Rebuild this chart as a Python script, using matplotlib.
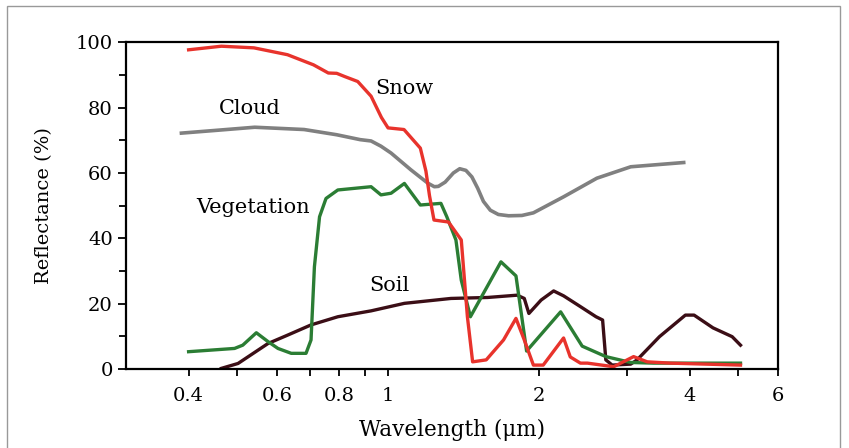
import matplotlib
matplotlib.use('Agg')
import matplotlib.pyplot as plt
from matplotlib.patches import Rectangle
from matplotlib.ticker import FixedLocator, NullFormatter

plt.rcParams['font.family'] = 'DejaVu Serif'

# wavelength (um) / reflectance (%)
snow_wl = [0.40, 0.465, 0.54, 0.63, 0.71, 0.76, 0.79, 0.82, 0.87, 0.925, 0.97,
           1.0, 1.076, 1.16, 1.19, 1.21, 1.235, 1.32, 1.40, 1.44, 1.475, 1.57,
           1.70, 1.80, 1.87, 1.95, 2.04, 2.24, 2.31, 2.42, 2.50, 2.82, 3.09,
           3.29, 3.66, 5.05]
snow_r = [97.7, 98.8, 98.3, 96.2, 93.1, 90.6, 90.5, 89.5, 88.0, 83.5, 77.0,
          73.8, 73.3, 67.6, 60.6, 53.0, 45.6, 45.0, 39.5, 16.0, 2.2, 2.8,
          8.9, 15.5, 8.9, 1.2, 1.2, 9.5, 3.7, 1.8, 1.8, 0.7, 3.8,
          2.2, 1.8, 1.2]

cloud_wl = [0.387, 0.45, 0.542, 0.68, 0.79, 0.88, 0.925, 0.968, 1.014, 1.11,
            1.20, 1.237, 1.26, 1.30, 1.35, 1.39, 1.43, 1.47, 1.51, 1.55, 1.60,
            1.66, 1.74, 1.85, 1.95, 2.24, 2.61, 3.05, 3.89]
cloud_r = [72.2, 73.0, 74.0, 73.3, 71.7, 70.2, 69.8, 68.2, 66.1, 61.0,
           56.9, 55.8, 55.9, 57.2, 60.0, 61.3, 60.8, 58.8, 55.3, 51.3, 48.6,
           47.3, 46.9, 47.0, 47.8, 52.7, 58.4, 61.9, 63.2]

veg_wl = [0.40, 0.494, 0.513, 0.546, 0.576, 0.603, 0.641, 0.686, 0.702, 0.713,
          0.73, 0.752, 0.794, 0.925, 0.968, 1.014, 1.078, 1.16, 1.275, 1.31,
          1.366, 1.40, 1.46, 1.68, 1.80, 1.89, 2.21, 2.44, 2.72, 3.05, 3.39,
          5.05]
veg_r = [5.3, 6.3, 7.3, 11.1, 8.4, 6.3, 4.8, 4.8, 8.9, 31.3,
         46.6, 52.2, 54.8, 55.8, 53.3, 53.8, 56.8, 50.2, 50.7, 46.6,
         39.5, 27.2, 16.0, 32.8, 28.5, 5.5, 17.5, 7.0, 3.8, 2.0, 1.8,
         1.8]

soil_wl = [0.465, 0.502, 0.576, 0.631, 0.702, 0.794, 0.925, 1.078, 1.335, 1.58,
           1.81, 1.87, 1.91, 2.02, 2.14, 2.24, 2.42, 2.60, 2.68, 2.72, 2.80,
           3.05, 3.14, 3.48, 3.92, 4.08, 4.45, 4.86, 5.05]
soil_r = [0.2, 1.7, 7.8, 10.4, 13.5, 16.0, 17.8, 20.1, 21.6, 21.9,
          22.6, 21.6, 17.0, 21.1, 23.9, 22.4, 19.1, 16.0, 15.0, 2.8, 1.2,
          1.5, 2.8, 9.9, 16.5, 16.5, 12.6, 9.9, 7.3]

xticks_major = [0.4, 0.6, 0.8, 1, 2, 4, 6]
xtick_labels = ['0.4', '0.6', '0.8', '1', '2', '4', '6']
xticks_minor = [0.5, 0.7, 0.9, 3, 5]

fig = plt.figure(figsize=(8.49, 4.48), dpi=100)
ax = fig.add_axes([0.1484, 0.1763, 0.768, 0.7293])

ax.plot(soil_wl, soil_r, color='#3b0e16', lw=2.4)
ax.plot(cloud_wl, cloud_r, color='#808080', lw=2.6)
ax.plot(veg_wl, veg_r, color='#2b7d34', lw=2.4)
ax.plot(snow_wl, snow_r, color='#e8332c', lw=2.4)

ax.text(1.076, 86.0, 'Snow', fontsize=15, ha='center', va='center')
ax.text(0.53, 79.6, 'Cloud', fontsize=15, ha='center', va='center')
ax.text(0.539, 49.3, 'Vegetation', fontsize=15, ha='center', va='center')
ax.text(1.007, 25.7, 'Soil', fontsize=15, ha='center', va='center')

ax.set_xscale('log')
ax.set_xlim(0.3, 6)
ax.set_ylim(0, 100)
ax.xaxis.set_major_locator(FixedLocator(xticks_major))
ax.set_xticklabels(xtick_labels)
ax.xaxis.set_minor_locator(FixedLocator(xticks_minor))
ax.xaxis.set_minor_formatter(NullFormatter())
ax.set_yticks(range(0, 101, 20))
ax.set_yticks(range(10, 100, 20), minor=True)

ax.tick_params(which='both', direction='out', width=1.3, labelsize=14, length=5)
ax.tick_params(axis='x', which='major', pad=8)
ax.tick_params(axis='y', which='major', length=6)
for s in ax.spines.values():
    s.set_linewidth(1.6)

ax.set_xlabel('Wavelength (μm)', fontsize=15.5, labelpad=10)
ax.set_ylabel('Reflectance (%)', fontsize=14, labelpad=16)

fig.patches.append(Rectangle((0.008, -0.02), 0.981, 1.007, transform=fig.transFigure,
                             fill=False, edgecolor='#999999', lw=1))

fig.savefig('out.png', dpi=100)
